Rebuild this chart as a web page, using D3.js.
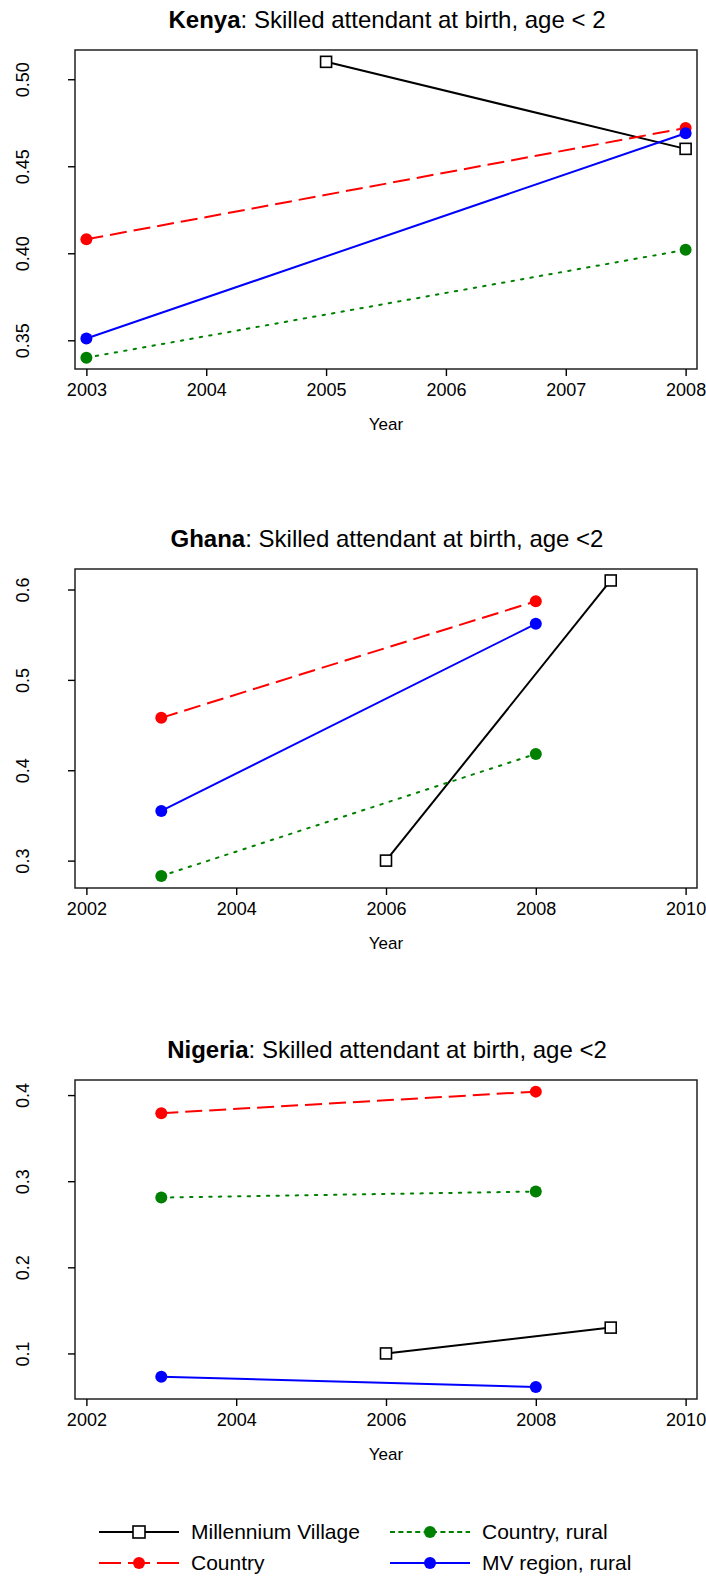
<!DOCTYPE html>
<html>
<head>
<meta charset="utf-8">
<script src="https://cdn.jsdelivr.net/npm/d3@7"></script>
<style>
  html, body { margin: 0; padding: 0; background: #fff; }
  svg { display: block; }
  text { font-family: "Liberation Sans", Arial, Helvetica, sans-serif; fill: #000; }
</style>
</head>
<body>
<svg id="chart" width="706" height="1576"></svg>
<script>
// Series shown in every panel
const seriesNames = ["Millennium Village", "Country", "Country, rural", "MV region, rural"];
const seriesColors = ["#000000", "#ff0000", "#008000", "#0000ff"];

// Survey years
const surveyYears = [2003, 2008];
const kenyaMVYears = [2005, 2008];
const mvYears = [2006, 2009];

// Kenya: share of births with a skilled attendant, children under 2
const kenyaMV = [0.510, 0.460];
const kenyaCountry = [0.408, 0.472];
const kenyaRural = [0.340, 0.402];
const kenyaMVRegion = [0.351, 0.469];

// Ghana
const ghanaMV = [0.300, 0.610];
const ghanaCountry = [0.458, 0.587];
const ghanaRural = [0.283, 0.418];
const ghanaMVRegion = [0.355, 0.562];

// Nigeria
const nigeriaMV = [0.100, 0.130];
const nigeriaCountry = [0.379, 0.404];
const nigeriaRural = [0.281, 0.288];
const nigeriaMVRegion = [0.073, 0.061];

// Axis ticks
const kenyaXTicks = [2003, 2004, 2005, 2006, 2007, 2008];
const otherXTicks = [2002, 2004, 2006, 2008, 2010];
const kenyaYTicks = [0.35, 0.40, 0.45, 0.50];
const ghanaYTicks = [0.3, 0.4, 0.5, 0.6];
const nigeriaYTicks = [0.1, 0.2, 0.3, 0.4];

const panels = [
  {
    name: "Kenya", rest: ": Skilled attendant at birth, age < 2",
    top: 50, xlim: [2002.905, 2008.095], ylim: [0.3335, 0.5168],
    xTicks: kenyaXTicks, yTicks: kenyaYTicks, yFmt: d3.format(".2f"),
    series: [
      { years: kenyaMVYears, values: kenyaMV },
      { years: surveyYears, values: kenyaCountry },
      { years: surveyYears, values: kenyaRural },
      { years: surveyYears, values: kenyaMVRegion }
    ]
  },
  {
    name: "Ghana", rest: ": Skilled attendant at birth, age <2",
    top: 569, xlim: [2001.848, 2010.152], ylim: [0.2697, 0.6227],
    xTicks: otherXTicks, yTicks: ghanaYTicks, yFmt: d3.format(".1f"),
    series: [
      { years: mvYears, values: ghanaMV },
      { years: surveyYears, values: ghanaCountry },
      { years: surveyYears, values: ghanaRural },
      { years: surveyYears, values: ghanaMVRegion }
    ]
  },
  {
    name: "Nigeria", rest: ": Skilled attendant at birth, age <2",
    top: 1080, xlim: [2001.848, 2010.152], ylim: [0.0471, 0.4175],
    xTicks: otherXTicks, yTicks: nigeriaYTicks, yFmt: d3.format(".1f"),
    series: [
      { years: mvYears, values: nigeriaMV },
      { years: surveyYears, values: nigeriaCountry },
      { years: surveyYears, values: nigeriaRural },
      { years: surveyYears, values: nigeriaMVRegion }
    ]
  }
];

// Line styles: solid, long dash, dotted, solid
const dashes = [null, "17,7", "2.4,7.2", null];
const caps = ["butt", "butt", "round", "butt"];

const box = { left: 75, right: 697, height: 319 };
const svg = d3.select("#chart");

panels.forEach(p => {
  const g = svg.append("g");
  const bottom = p.top + box.height;
  const x = d3.scaleLinear().domain(p.xlim).range([box.left, box.right]);
  const y = d3.scaleLinear().domain(p.ylim).range([bottom, p.top]);
  const cx = (box.left + box.right) / 2;

  // title: bold country name followed by the indicator
  const title = g.append("text")
    .attr("x", cx + 1).attr("y", p.top - 22.5)
    .attr("text-anchor", "middle")
    .style("font-size", "24px");
  title.append("tspan").attr("font-weight", "bold").text(p.name);
  title.append("tspan").text(p.rest);

  // plot frame
  g.append("rect")
    .attr("x", box.left).attr("y", p.top)
    .attr("width", box.right - box.left).attr("height", box.height)
    .attr("fill", "none").attr("stroke", "#222").attr("stroke-width", 1.5);

  // x axis
  const xAxis = d3.axisBottom(x).tickValues(p.xTicks).tickFormat(d3.format("d"))
    .tickSize(7).tickPadding(6);
  const gx = g.append("g").attr("transform", `translate(0,${bottom})`).call(xAxis);
  gx.select(".domain").remove();
  gx.selectAll(".tick line").attr("stroke", "#000").attr("stroke-width", 1.4);
  gx.selectAll(".tick text")
    .style("font-size", "18px")
    .style("font-family", "'Liberation Sans', Arial, sans-serif")
    .attr("dy", null).attr("y", 27);

  // y axis with labels turned parallel to the axis
  const yAxis = d3.axisLeft(y).tickValues(p.yTicks).tickFormat(p.yFmt).tickSize(7);
  const gy = g.append("g").attr("transform", `translate(${box.left},0)`).call(yAxis);
  gy.select(".domain").remove();
  gy.selectAll(".tick line").attr("stroke", "#000").attr("stroke-width", 1.4);
  gy.selectAll(".tick text")
    .style("font-size", "18px")
    .style("font-family", "'Liberation Sans', Arial, sans-serif")
    .attr("x", null).attr("dy", null)
    .attr("text-anchor", "middle")
    .attr("transform", `translate(${29 - box.left},0) rotate(-90)`);

  // axis title
  g.append("text")
    .attr("x", cx).attr("y", bottom + 61)
    .attr("text-anchor", "middle")
    .style("font-size", "17px")
    .text("Year");

  const line = d3.line().x(d => x(d[0])).y(d => y(d[1]));

  p.series.forEach((s, i) => {
    const pts = s.years.map((yr, k) => [yr, s.values[k]]);
    g.append("path")
      .attr("d", line(pts))
      .attr("fill", "none")
      .attr("stroke", seriesColors[i])
      .attr("stroke-width", 2)
      .attr("stroke-linecap", caps[i])
      .attr("stroke-dasharray", dashes[i]);
    if (i === 0) {
      g.selectAll(null).data(pts).enter().append("rect")
        .attr("x", d => x(d[0]) - 5.5).attr("y", d => y(d[1]) - 5.5)
        .attr("width", 11).attr("height", 11)
        .attr("fill", "#fff").attr("stroke", "#000").attr("stroke-width", 1.6);
    } else {
      g.selectAll(null).data(pts).enter().append("circle")
        .attr("cx", d => x(d[0])).attr("cy", d => y(d[1]))
        .attr("r", 6)
        .attr("fill", seriesColors[i]);
    }
  });
});

// legend: two columns, two rows
const legendPos = [
  { x: 99, y: 1532 },   // Millennium Village
  { x: 99, y: 1563 },   // Country
  { x: 390, y: 1532 },  // Country, rural
  { x: 390, y: 1563 }   // MV region, rural
];
const legendDashes = [null, "22,7", "5,3.4", null];
const lg = svg.append("g");
seriesNames.forEach((name, i) => {
  const pos = legendPos[i];
  lg.append("line")
    .attr("x1", pos.x).attr("x2", pos.x + 80)
    .attr("y1", pos.y).attr("y2", pos.y)
    .attr("stroke", seriesColors[i]).attr("stroke-width", 2)
    .attr("stroke-dasharray", legendDashes[i]);
  if (i === 0) {
    lg.append("rect")
      .attr("x", pos.x + 40 - 6).attr("y", pos.y - 6)
      .attr("width", 12).attr("height", 12)
      .attr("fill", "#fff").attr("stroke", "#000").attr("stroke-width", 1.6);
  } else {
    lg.append("circle")
      .attr("cx", pos.x + 40).attr("cy", pos.y).attr("r", 6)
      .attr("fill", seriesColors[i]);
  }
  lg.append("text")
    .attr("x", pos.x + 92).attr("y", pos.y + 7.3)
    .style("font-size", "21px")
    .text(name);
});
</script>
</body>
</html>
